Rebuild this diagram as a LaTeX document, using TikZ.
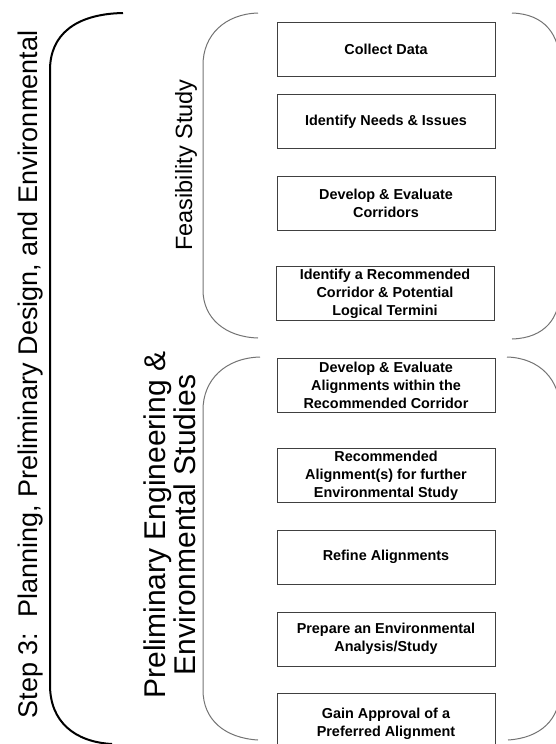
\documentclass[tikz,border=0pt]{standalone}
\usepackage{fontspec}
\setmainfont{Liberation Sans}
\begin{document}
\begin{tikzpicture}[x=1pt,y=-1pt,
    stage/.style={draw=black!75, line width=1pt, minimum width=218pt, minimum height=54pt, inner sep=0pt, align=center, font=\bfseries\fontsize{14.4}{18}\selectfont},
    phase/.style={rotate=90, anchor=base, align=center},
    bracket/.style={draw=black!55, line width=1pt}]
  \useasboundingbox (0,0) rectangle (556,744);
  % step title and its bracket
  \node[phase, font=\fontsize{27}{30}\selectfont] (step) at (37,374.5) {Step 3:\ \ Planning, Preliminary Design, and Environmental};
  \draw[line width=2pt] (123,13) .. controls (75,14) and (50,35) .. (50,70) -- (50,685) .. controls (50,722) and (75,742) .. (112,744);
  % feasibility study
  \node[phase, font=\fontsize{23.5}{30}\selectfont] (feas) at (192,165) {Feasibility Study};
  \draw[bracket] (258,13) .. controls (225,14) and (203,35) .. (203,65) -- (203,290) .. controls (203,318) and (225,337) .. (258,338);
  \draw[bracket] (512,13) .. controls (545,14) and (560,35) .. (560,65) -- (560,290) .. controls (560,318) and (545,338) .. (512,339);
  \node[stage] (collect) at (386,49.5) {Collect Data};
  \node[stage] (needs) at (386,121.5) {Identify Needs \& Issues};
  \node[stage] (corridors) at (386,203.5) {Develop \& Evaluate\\Corridors};
  \node[stage] (termini) at (385,293.5) {Identify a Recommended\\Corridor \& Potential\\Logical Termini};
  % preliminary engineering
  \node[phase, font=\fontsize{30}{30}\selectfont] (prelim) at (195,525) {Preliminary Engineering \&\\Environmental Studies};
  \draw[bracket] (260,357) .. controls (225,358) and (203,380) .. (203,410) -- (203,690) .. controls (203,720) and (225,738) .. (258,740);
  \draw[bracket] (507,357) .. controls (540,358) and (560,380) .. (560,410) -- (560,690) .. controls (560,720) and (540,738) .. (508,740);
  \node[stage] (alignments) at (386,385) {Develop \& Evaluate\\Alignments within the\\Recommended Corridor};
  \node[stage] (further) at (386,475.5) {Recommended\\Alignment(s) for further\\Environmental Study};
  \node[stage] (refine) at (386,557) {Refine Alignments};
  \node[stage] (analysis) at (386,639) {Prepare an Environmental\\Analysis/Study};
  \node[stage, minimum height=62pt] (approval) at (386,724) {Gain Approval of a\\Preferred Alignment};
\end{tikzpicture}
\end{document}
